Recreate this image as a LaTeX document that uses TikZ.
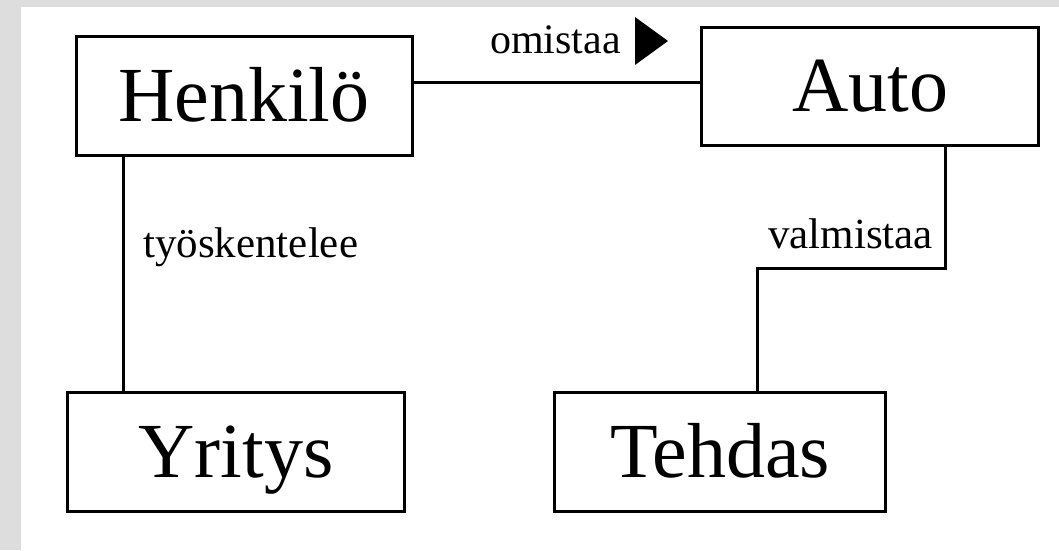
\documentclass[tikz,border=0pt]{standalone}
\usepackage{fontspec}
\setmainfont{Liberation Serif}
\definecolor{bggray}{RGB}{221,221,221}
\begin{document}
\begin{tikzpicture}[x=1pt,y=-1pt,
  classbox/.style={draw=black, line width=3pt, fill=white, inner sep=0pt,
    minimum height=119pt, text height=51.5pt, text depth=0pt,
    font=\fontsize{78pt}{90pt}\selectfont},
  assoc/.style={draw=black, line width=3pt},
  rolelabel/.style={anchor=base west, inner sep=0pt,
    font=\fontsize{43pt}{50pt}\selectfont}]
\fill[bggray] (0,0) rectangle (1059,550);
\fill[white] (21,7) rectangle (1059,550);
\useasboundingbox (0,0) rectangle (1059,550);
% classes
\node[classbox, minimum width=336pt] (henkilo) at (244,95.5) {Henkilö};
\node[classbox, minimum width=337pt, minimum height=118pt] (auto) at (870,86) {Auto};
\node[classbox, minimum width=337pt] (yritys) at (236,452) {Yritys};
\node[classbox, minimum width=331pt] (tehdas) at (720,452) {Tehdas};
% helper coordinates
\coordinate (ownY) at (0,82);
\coordinate (workX) at (123,0);
\coordinate (makeX1) at (945,0);
\coordinate (makeY) at (0,268);
\coordinate (makeX2) at (757,0);
% connectors
\draw[assoc] (henkilo.east |- ownY) -- (auto.west |- ownY);
\draw[assoc] (henkilo.south -| workX) -- (yritys.north -| workX);
\draw[assoc] (auto.south -| makeX1) -- (makeX1 |- makeY) -- (makeX2 |- makeY) -- (tehdas.north -| makeX2);
% labels
\node[rolelabel, font=\fontsize{42pt}{50pt}\selectfont] (omistaa) at (490,53) {omistaa};
\coordinate (triA) at (635,17);
\coordinate (triB) at (668,41);
\coordinate (triC) at (635,65);
\fill[black] (triA) -- (triB) -- (triC) -- cycle;
\node[rolelabel] (tyoskentelee) at (143,257) {työskentelee};
\node[rolelabel] (valmistaa) at (768,248) {valmistaa};
\end{tikzpicture}
\end{document}
